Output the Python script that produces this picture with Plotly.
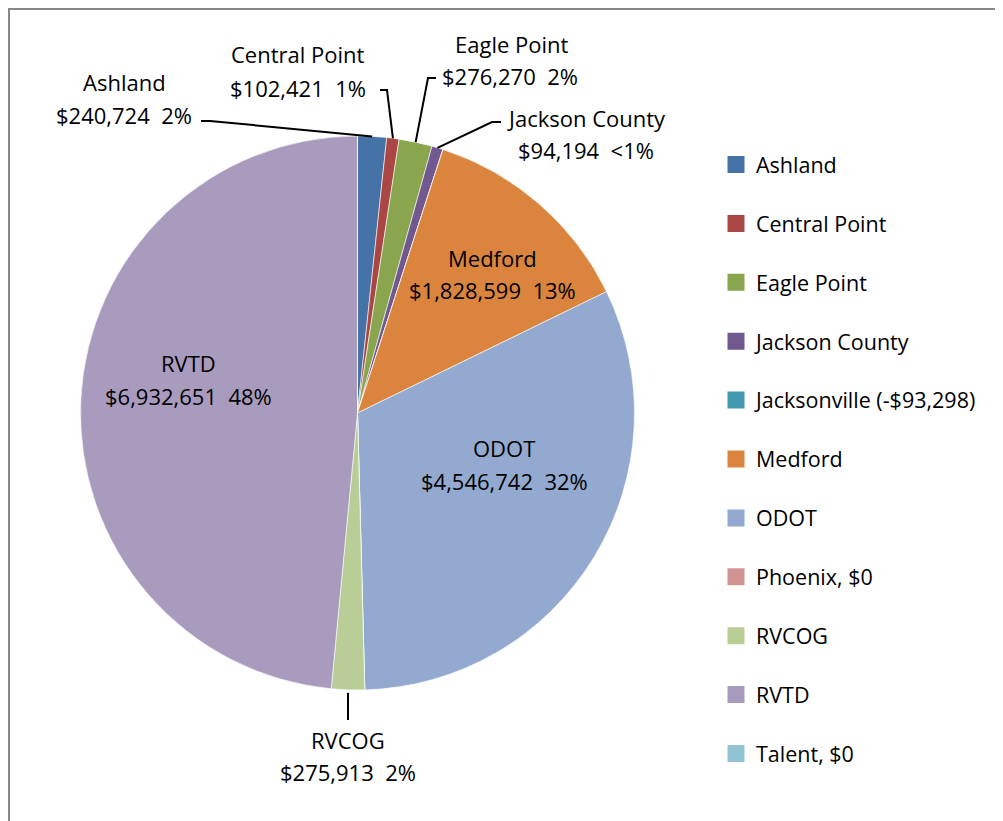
import math
import plotly.graph_objects as go

# ---------------- data ----------------
categories = ["Ashland", "Central Point", "Eagle Point", "Jackson County",
              "Jacksonville (-$93,298)", "Medford", "ODOT", "Phoenix, $0",
              "RVCOG", "RVTD", "Talent, $0"]
label_names = ["Ashland", "Central Point", "Eagle Point", "Jackson County",
               None, "Medford", "ODOT", None, "RVCOG", "RVTD", None]
values = [240724, 102421, 276270, 94194, 0, 1828599, 4546742, 0,
          275913, 6932651, 0]
pct_labels = ["2%", "1%", "2%", "<1%", "", "13%", "32%", "", "2%", "48%", ""]
colors = ["#4572A7", "#AA4643", "#89A54E", "#71588F", "#4198AF", "#DB843D",
          "#93A9CF", "#D19392", "#B9CD96", "#A99BBD", "#92C3D5"]

# ---------------- layout constants ----------------
OFF = 8                       # page body margin
W, H = 1003 - OFF, 821 - OFF  # figure size so it fits the window
CX, CY, R = 357.5, 413.0, 277.0   # pie geometry in page pixels
FONT = "Open Sans, Liberation Sans, Arial, sans-serif"


def px(x, y):
    """page pixel -> paper coordinates"""
    return (x - OFF) / W, 1 - (y - OFF) / H


# label layout: (name pos, value pos, leader waypoints on label side)
label_layout = {
    "Ashland": ((124, 82), (124, 115), [(201, 121), (210, 121)]),
    "Central Point": ((298, 54), (298, 88), [(380, 90), (387, 90)]),
    "Eagle Point": ((512, 44), (510, 76), [(436, 78), (428, 78)]),
    "Jackson County": ((586, 118), (586, 150), [(501, 122), (492, 122)]),
    "Medford": ((492, 258), (492, 290), None),
    "ODOT": ((504, 448), (504, 481), None),
    "RVCOG": ((348, 740), (348, 772), "down"),
    "RVTD": ((188, 363), (188, 396), None),
}

x0d, y1d = px(CX - R, CY - R)
x1d, y0d = px(CX + R, CY + R)

fig = go.Figure()
fig.add_trace(go.Pie(
    labels=categories,
    values=values,
    sort=False,
    direction="clockwise",
    rotation=0,
    marker=dict(colors=colors, line=dict(color="white", width=0.6)),
    textinfo="none",
    hoverinfo="skip",
    domain=dict(x=[x0d, x1d], y=[y0d, y1d]),
    showlegend=False,
))

# legend entries (one per category, square swatches like the original)
for cat, col in zip(categories, colors):
    fig.add_trace(go.Scatter(
        x=[None], y=[None], mode="markers", name=cat + "<br>",
        marker=dict(symbol="square", size=12, color=col,
                    line=dict(color=col, width=5)),
        hoverinfo="skip", showlegend=True))

total = sum(values)
annotations = []
shapes = []
cum = 0.0
for i, v in enumerate(values):
    name = label_names[i]
    mid = cum + v / 2.0
    cum += v
    if name is None:
        continue
    a = 2 * math.pi * mid / total
    ex = CX + R * math.sin(a)
    ey = CY - R * math.cos(a)
    (nx, ny), (vx, vy), leader = label_layout[name]
    for txt, (tx, ty) in ((name, (nx, ny)),
                          (f"${v:,}\u00a0 {pct_labels[i]}", (vx, vy))):
        ax_, ay_ = px(tx, ty)
        annotations.append(dict(
            x=ax_, y=ay_, xref="paper", yref="paper", text=txt,
            showarrow=False, xanchor="center", yanchor="middle",
            font=dict(family=FONT, size=22, color="black")))
    pts = None
    if leader == "down":
        pts = [(ex, 720), (ex, ey + 3)]
    elif leader:
        pts = leader + [(ex, ey)]
    if pts:
        path = "M " + " L ".join(
            f"{px(x, y)[0]:.5f},{px(x, y)[1]:.5f}" for x, y in pts)
        shapes.append(dict(type="path", path=path, xref="paper", yref="paper",
                           line=dict(color="black", width=2)))

# outer chart frame (gray); left/top edges of the chart area
fx0, fy1 = 1.0 / W, 1 - 1.0 / H
shapes.append(dict(type="rect", xref="paper", yref="paper",
                   x0=fx0, x1=1.1, y0=-0.1, y1=fy1,
                   line=dict(color="#878787", width=2), layer="above"))

fig.update_layout(
    width=W, height=H,
    margin=dict(l=0, r=0, t=0, b=0),
    paper_bgcolor="white",
    plot_bgcolor="rgba(0,0,0,0)",
    xaxis=dict(visible=False),
    yaxis=dict(visible=False),
    annotations=annotations,
    shapes=shapes,
    legend=dict(
        x=px(716, 0)[0], y=px(0, 144)[1], xanchor="left", yanchor="top",
        font=dict(family=FONT, size=21.5, color="black"),
        valign="top", bgcolor="rgba(0,0,0,0)", itemclick=False,
        itemdoubleclick=False, traceorder="normal"),
)

fig.write_html("out.html")
